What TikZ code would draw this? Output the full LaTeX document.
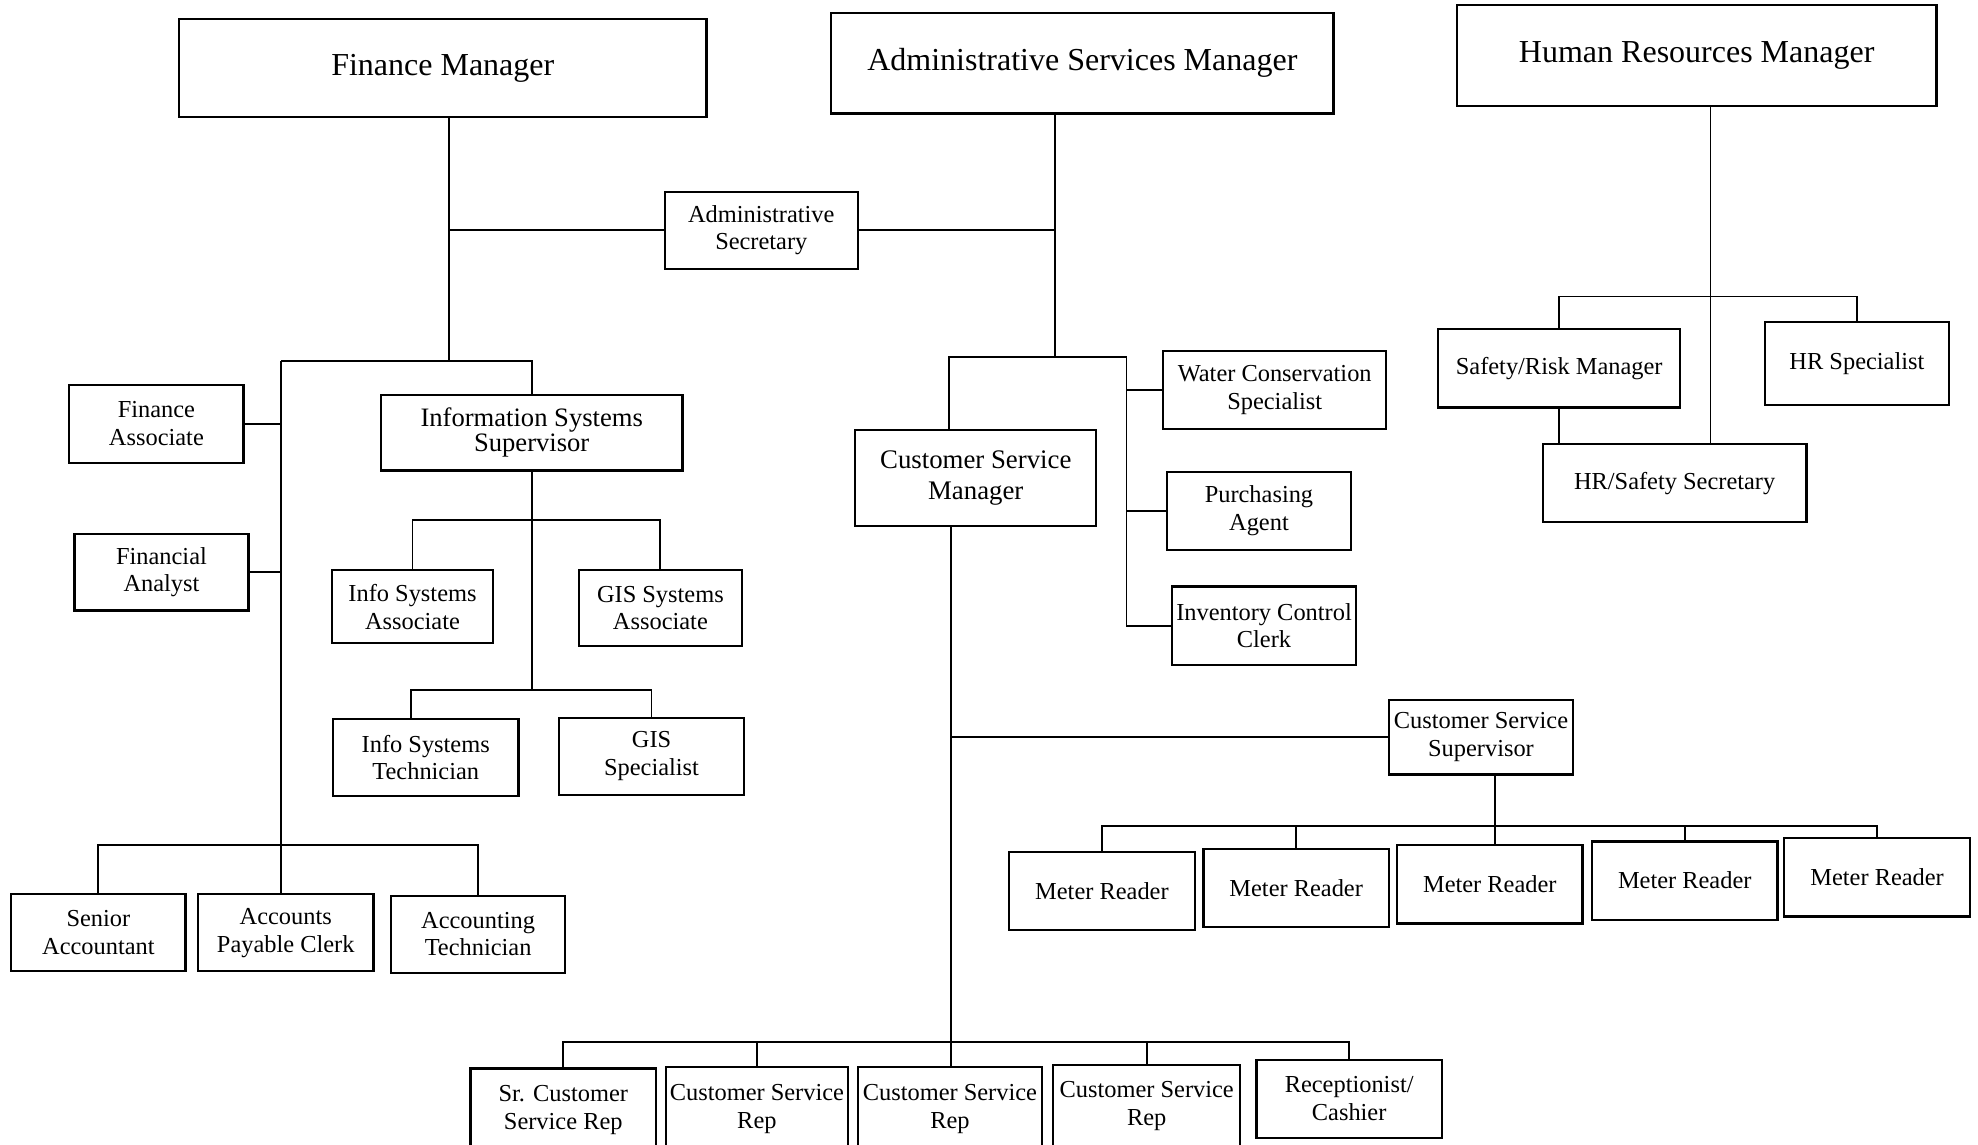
\documentclass[tikz,border=0pt]{standalone}
\usepackage{fontspec}
\setmainfont{Liberation Serif}
\begin{document}
\begin{tikzpicture}[x=0.6307pt,y=-0.6307pt,
  box/.style={draw,line width=1.1pt,align=center,inner sep=0pt,font=\fontsize{12.2}{13.9}\selectfont},
  big/.style={box,font=\fontsize{16}{18}\selectfont},
  mid/.style={box,font=\fontsize{13.3}{15}\selectfont},
  sz/.style 2 args={minimum width=#1*0.6307pt,minimum height=#2*0.6307pt},
  conn/.style={line width=0.9pt}]
\useasboundingbox (0,0) rectangle (1568,907);
% top managers
\node[big,sz={418}{78}] (FM) at (351,54) {Finance Manager};
\node[big,sz={398}{80}] (ASM) at (858,50) {Administrative Services Manager};
\node[big,sz={380}{80}] (HRM) at (1345,44) {Human Resources Manager};
\node[box,sz={153}{61}] (AS) at (603.5,182.5) {Administrative\\Secretary};
% finance
\node[box,sz={138}{62}] (FA) at (124,336) {Finance\\Associate};
\node[box,sz={138}{61}] (FAn) at (128,453.5) {Financial\\Analyst};
\node[mid,sz={239}{60},font=\fontsize{13.3}{11.5}\selectfont] (ISS) at (421.5,343) {Information Systems\\Supervisor};
\node[box,sz={128}{58}] (ISA) at (327,481) {Info Systems\\Associate};
\node[box,sz={129}{60}] (GSA) at (523.5,482) {GIS Systems\\Associate};
\node[box,sz={147}{61}] (IST) at (337.5,600.5) {Info Systems\\Technician};
\node[box,sz={147}{61}] (GISS) at (516.5,599.5) {GIS\\Specialist};
\node[box,sz={138}{61}] (SA) at (78,739.5) {Senior\\Accountant};
\node[box,sz={139}{61}] (APC) at (226.5,739.5) {Accounts\\Payable Clerk};
\node[box,sz={138}{61}] (AT) at (379,740.5) {Accounting\\Technician};
% admin services
\node[box,sz={177}{62}] (WCS) at (1010.5,309) {Water Conservation\\Specialist};
\node[box,sz={146}{62}] (PA) at (998,405) {Purchasing\\Agent};
\node[box,sz={146}{62}] (ICC) at (1002,496) {Inventory Control\\Clerk};
\node[mid,sz={191}{76},font=\fontsize{13.4}{15.8}\selectfont] (CSM) at (773.5,379) {Customer Service\\Manager};
\node[box,sz={146}{59}] (CSS) at (1174,584.5) {Customer Service\\Supervisor};
\node[box,sz={147}{62}] (MR1) at (873.5,706.5) {Meter Reader};
\node[box,sz={147}{62}] (MR2) at (1027.5,704) {Meter Reader};
\node[box,sz={147}{62}] (MR3) at (1181,701) {Meter Reader};
\node[box,sz={147}{62}] (MR4) at (1335.5,698) {Meter Reader};
\node[box,sz={147}{62}] (MR5) at (1488,695.5) {Meter Reader};
\node[box,sz={147}{66}] (SCSR) at (446.5,880) {Sr. Customer\\Service Rep};
\node[box,sz={144}{66}] (CSR1) at (600,879) {Customer Service\\Rep};
\node[box,sz={146}{66}] (CSR2) at (753,879) {Customer Service\\Rep};
\node[box,sz={148}{66}] (CSR3) at (909,877) {Customer Service\\Rep};
\node[box,sz={147}{62}] (RC) at (1069.5,871) {Receptionist/\\Cashier};
% human resources
\node[box,sz={192}{62}] (SRM) at (1236,292) {Safety/Risk Manager};
\node[box,sz={146}{66}] (HRS) at (1472,288) {HR Specialist};
\node[box,sz={209}{62}] (HSS) at (1327.5,383) {HR/Safety Secretary};
% junction coordinates
\coordinate (fj) at (356,286);
\coordinate (fbL) at (223,286);
\coordinate (fbR) at (422,286);
\coordinate (fbot) at (223,670);
\coordinate (ib1) at (422,412);
\coordinate (ib2) at (422,547);
\coordinate (istd) at (326,547);
\coordinate (aj) at (836,283);
\coordinate (abL) at (752,283);
\coordinate (abR) at (893,283);
\coordinate (cbot) at (754,826);
\coordinate (mb) at (1185,655);
\coordinate (hj) at (1356,235);
% finance connectors
\draw[conn] (FM.south -| fj) -- (fj);
\draw[conn] (AS.west) -- (AS.west -| fj);
\draw[conn] (fbL) -- (fbR) -- (fbR |- ISS.north);
\draw[conn] (fbL) -- (fbot) -- (fbot |- APC.north);
\draw[conn] (FA.east) -- (FA.east -| fbL);
\draw[conn] (FAn.east) -- (FAn.east -| fbL);
\draw[conn] (SA.north) |- (fbot) -| (AT.north);
\draw[conn] (ISS.south) -- (ISS.south |- ib2);
\draw[conn] (ISA.north) |- (ib1) -| (GSA.north);
\draw[conn] (istd |- IST.north) -- (istd) -| (GISS.north);
% admin connectors
\draw[conn] (ASM.south -| aj) -- (aj);
\draw[conn] (AS.east) -- (AS.east -| aj);
\draw[conn] (abL |- CSM.north) -- (abL) -- (abR) -- (abR |- ICC.west) -- (ICC.west);
\draw[conn] (WCS.west) -- (WCS.west -| abR);
\draw[conn] (PA.west) -- (PA.west -| abR);
\draw[conn] (CSM.south -| cbot) -- (cbot);
\draw[conn] (CSS.west) -- (CSS.west -| cbot);
\draw[conn] (mb |- CSS.south) -- (mb) -- (mb |- MR3.north);
\draw[conn] (MR1.north) |- (mb) -| (MR5.north);
\draw[conn] (MR2.north) -- (MR2.north |- mb);
\draw[conn] (MR4.north) -- (MR4.north |- mb);
\draw[conn] (SCSR.north) |- (cbot) -| (RC.north);
\draw[conn] (CSR1.north) -- (CSR1.north |- cbot);
\draw[conn] (cbot) -- (cbot |- CSR2.north);
\draw[conn] (CSR3.north) -- (CSR3.north |- cbot);
% HR connectors
\draw[conn] (HRM.south -| hj) -- (hj |- HSS.north);
\draw[conn] (SRM.north) |- (hj) -| (HRS.north);
\draw[conn] (SRM.south) -- (SRM.south |- HSS.north);
\end{tikzpicture}
\end{document}
